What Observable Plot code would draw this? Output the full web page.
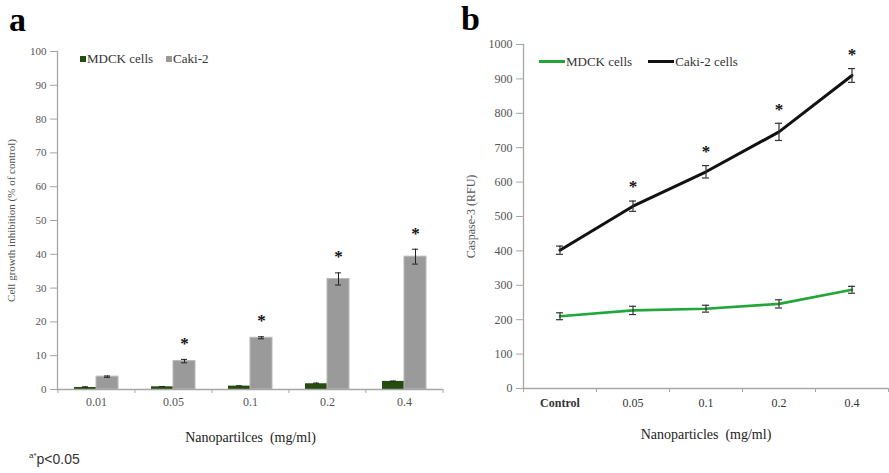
<!DOCTYPE html>
<html>
<head>
<meta charset="utf-8">
<script src="https://cdn.jsdelivr.net/npm/d3@7"></script>
<script src="https://cdn.jsdelivr.net/npm/@observablehq/plot@0.6"></script>
<style>
  body { margin: 0; background: #fff; }
  #wrap { position: relative; width: 889px; height: 473px; overflow: hidden; font-family: "Liberation Serif", serif; }
  .panel { position: absolute; top: 0; }
  .plab { position: absolute; font-family: "Liberation Serif", serif; font-weight: bold; font-size: 34px; line-height: 34px; color: #000; }
  .legend { position: absolute; font-family: "Liberation Serif", serif; font-size: 13px; color: #333; white-space: nowrap; line-height: 14px; }
  .sq { display: inline-block; width: 6px; height: 6px; margin-right: 1px; vertical-align: 1px; }
  .ln { display: inline-block; width: 26px; height: 3px; margin-right: 1px; vertical-align: 3px; }
  .note { position: absolute; left: 29px; top: 451px; font-family: "Liberation Sans", sans-serif; font-size: 14px; color: #333; }
  .note sup { font-size: 8px; }
</style>
</head>
<body>
<div id="wrap">
  <div id="panelA" class="panel" style="left:0px"></div>
  <div id="panelB" class="panel" style="left:450px"></div>
  <div class="plab" style="left:9px; top:3px">a</div>
  <div class="plab" style="left:461px; top:2px">b</div>
  <div class="legend" style="left:80px; top:52px"><span class="sq" style="background:#254d10"></span>MDCK cells&nbsp;&nbsp;&nbsp;&nbsp;<span class="sq" style="background:#999"></span>Caki-2</div>
  <div class="legend" style="left:539px; top:55px"><span class="ln" style="background:#22a63a"></span>MDCK cells&nbsp;&nbsp;&nbsp;&nbsp;&nbsp;<span class="ln" style="background:#111"></span>Caki-2 cells</div>
  <div class="note"><sup>a*</sup>p&lt;0.05</div>
</div>
<script>
// ---------- Panel a: cell growth inhibition ----------
const concA = ["0.01", "0.05", "0.1", "0.2", "0.4"];
const mdckGrowth = [0.6, 0.8, 1.0, 1.7, 2.4];
const mdckGrowthErr = [0.2, 0.1, 0.1, 0.2, 0.1];
const cakiGrowth = [3.8, 8.4, 15.3, 32.7, 39.3];
const cakiGrowthErr = [0.2, 0.5, 0.3, 1.8, 2.2];
const sigA = [false, true, true, true, true];
const yTicksA = [0, 10, 20, 30, 40, 50, 60, 70, 80, 90, 100];

// ---------- Panel b: caspase-3 ----------
const concB = ["Control", "0.05", "0.1", "0.2", "0.4"];
const mdckCasp = [210, 227, 232, 246, 287];
const mdckCaspErr = [10, 12, 10, 12, 10];
const cakiCasp = [402, 530, 630, 746, 910];
const cakiCaspErr = [12, 15, 18, 25, 20];
const sigB = [false, true, true, true, true];
const yTicksB = [0, 100, 200, 300, 400, 500, 600, 700, 800, 900, 1000];

const mdckA = concA.map((c, i) => ({conc: c, v: mdckGrowth[i], e: mdckGrowthErr[i]}));
const cakiA = concA.map((c, i) => ({conc: c, v: cakiGrowth[i], e: cakiGrowthErr[i], sig: sigA[i]}));
const mdckB = concB.map((c, i) => ({conc: c, v: mdckCasp[i], e: mdckCaspErr[i]}));
const cakiB = concB.map((c, i) => ({conc: c, v: cakiCasp[i], e: cakiCaspErr[i], sig: sigB[i]}));

const axisGrey = "#a6a6a6";
const W_A = 450, ML_A = 57, MR_A = 7;
const stepA = (W_A - ML_A - MR_A) / concA.length;
const half = 11;

const plotA = Plot.plot({
  width: W_A, height: 473,
  marginLeft: ML_A, marginRight: MR_A, marginTop: 51, marginBottom: 84,
  style: {fontFamily: "Liberation Serif, serif", fontSize: "12px", color: "#555", background: "transparent", overflow: "visible"},
  x: {domain: concA, paddingInner: 0.715, paddingOuter: 0.3575, align: 0.5},
  y: {domain: [0, 100]},
  marks: [
    Plot.barY(mdckA, {x: "conc", y: "v", dx: -half, fill: "#254d10"}),
    Plot.barY(cakiA, {x: "conc", y: "v", dx: half, fill: "#9a9a9a", stroke: "#b8b8b8", strokeWidth: 1}),
    Plot.ruleX(cakiA, {x: "conc", y1: d => d.v - d.e, y2: d => d.v + d.e, dx: half, stroke: "#222"}),
    Plot.tickY(cakiA, {x: "conc", y: d => d.v + d.e, dx: half, inset: 8, stroke: "#222"}),
    Plot.tickY(cakiA, {x: "conc", y: d => d.v - d.e, dx: half, inset: 8, stroke: "#222"}),
    Plot.ruleX(mdckA, {x: "conc", y1: d => d.v - d.e, y2: d => d.v + d.e, dx: -half, stroke: "#222"}),
    Plot.tickY(mdckA, {x: "conc", y: d => d.v + d.e, dx: -half, inset: 8, stroke: "#222"}),
    Plot.text(cakiA.filter(d => d.sig), {x: "conc", y: d => d.v + d.e, dx: half, dy: -16, text: () => "*", fontSize: 17, fontWeight: "bold", fill: "#111"}),
    Plot.ruleY([0], {stroke: axisGrey, strokeWidth: 1.3}),
    Plot.frame({anchor: "left", stroke: axisGrey, strokeWidth: 1.3}),
    Plot.ruleX(concA, {x: d => d, dx: -stepA / 2, y1: 0, y2: -1.2, stroke: axisGrey}),
    Plot.ruleX(concA.slice(-1), {x: d => d, dx: stepA / 2, y1: 0, y2: -1.2, stroke: axisGrey}),
    Plot.axisY({ticks: yTicksA, tickFormat: d3.format("d"), tickSize: 7, stroke: axisGrey, fill: "#555", tickPadding: 4,
      label: "Cell growth inhibition (% of control)", labelAnchor: "center", labelArrow: "none", labelOffset: 50, fontSize: 11}),
    Plot.axisX({tickSize: 0, tickPadding: 8, fill: "#555",
      label: "Nanopartilces  (mg/ml)", labelAnchor: "center", labelArrow: "none", labelOffset: 52, fontSize: 12})
  ]
});

const W_B = 439, ML_B = 73, MR_B = 1;
const stepB = (W_B - ML_B - MR_B) / concB.length;
const plotB = Plot.plot({
  width: W_B, height: 473,
  marginLeft: ML_B, marginRight: MR_B, marginTop: 44, marginBottom: 85,
  style: {fontFamily: "Liberation Serif, serif", fontSize: "12px", color: "#555", background: "transparent", overflow: "visible"},
  x: {domain: concB, paddingInner: 0.9, paddingOuter: 0.45, align: 0.5},
  y: {domain: [0, 1000]},
  marks: [
    Plot.lineY(mdckB, {x: "conc", y: "v", stroke: "#22a63a", strokeWidth: 2.6}),
    Plot.lineY(cakiB, {x: "conc", y: "v", stroke: "#111", strokeWidth: 3}),
    ...[mdckB, cakiB].flatMap(data => [
      Plot.ruleX(data, {x: "conc", y1: d => d.v - d.e, y2: d => d.v + d.e, stroke: "#333", strokeWidth: 1.2}),
      Plot.tickY(data, {x: "conc", y: d => d.v + d.e, stroke: "#333", strokeWidth: 1.2}),
      Plot.tickY(data, {x: "conc", y: d => d.v - d.e, stroke: "#333", strokeWidth: 1.2})
    ]),
    Plot.text(cakiB.filter(d => d.sig), {x: "conc", y: d => d.v + d.e, dy: -14, text: () => "*", fontSize: 17, fontWeight: "bold", fill: "#111"}),
    Plot.ruleY([0], {stroke: axisGrey, strokeWidth: 1.3}),
    Plot.frame({anchor: "left", stroke: axisGrey, strokeWidth: 1.3}),
    Plot.ruleX(concB, {x: d => d, dx: -stepB / 2, y1: 0, y2: -12, stroke: axisGrey}),
    Plot.ruleX(concB.slice(-1), {x: d => d, dx: stepB / 2, y1: 0, y2: -12, stroke: axisGrey}),
    Plot.axisY({ticks: yTicksB, tickFormat: d3.format("d"), tickSize: 7, stroke: axisGrey, fill: "#555", tickPadding: 4,
      label: "Caspase-3 (RFU)", labelAnchor: "center", labelArrow: "none", labelOffset: 57, fontSize: 12}),
    Plot.axisX({tickSize: 0, tickPadding: 10, fill: "#333",
      label: "Nanoparticles  (mg/ml)", labelAnchor: "center", labelArrow: "none", labelOffset: 50, fontSize: 12})
  ]
});

document.getElementById("panelA").appendChild(plotA);
document.getElementById("panelB").appendChild(plotB);

// axis titles: larger, darker; "Control" bold
for (const svg of [plotA, plotB]) {
  d3.select(svg).selectAll("text").each(function () {
    const t = this.textContent;
    if (t.startsWith("Nanopart")) { d3.select(this).attr("font-size", 14).attr("fill", "#222"); }
    if (t === "Control") { d3.select(this).attr("font-weight", "bold"); }
  });
}
</script>
</body>
</html>
